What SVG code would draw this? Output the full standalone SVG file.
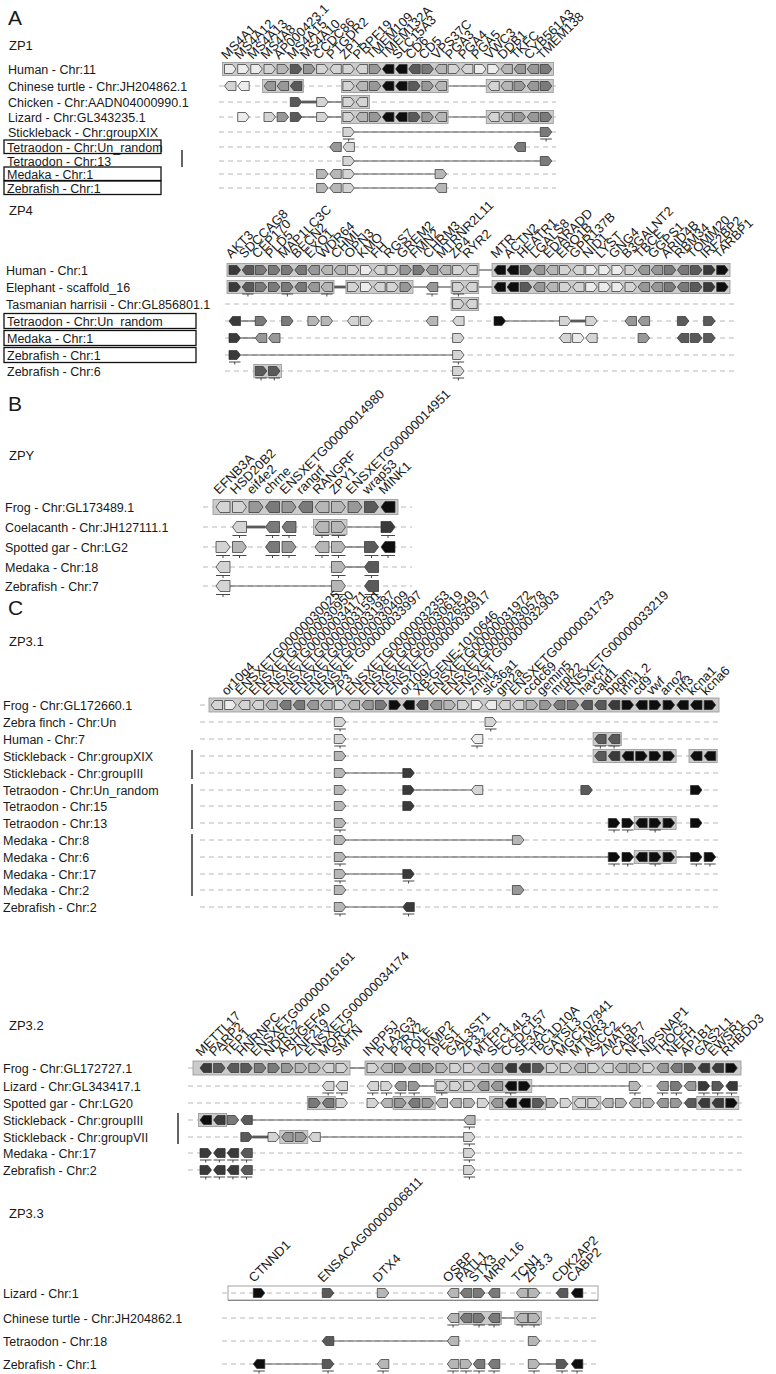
<svg xmlns="http://www.w3.org/2000/svg" width="776" height="1374" viewBox="0 0 776 1374">
<style>
text{font-family:"Liberation Sans",Arial,Helvetica,sans-serif;fill:#1a1a1a}
.sp{font-size:12.5px}
.gl text{font-size:13px}
.hd{font-size:13px}
.pn{font-size:21px}
use{stroke:#2e2e2e;stroke-width:0.7}
.a{fill:#ececec}.b{fill:#d4d4d4}.c{fill:#b6b6b6}.d{fill:#989898}.e{fill:#7a7a7a}.f{fill:#5a5a5a}.g{fill:#3a3a3a}.k{fill:#0e0e0e}
use.u{fill:none;stroke:#333;stroke-width:0.9}
.dash line{stroke:#b8b8b8;stroke-width:1;stroke-dasharray:5 4}
.ln{stroke:#5a5a5a;stroke-width:1.2}
.tk{stroke:#5a5a5a;stroke-width:2.8}
.bar{fill:#cbcbcb;stroke:#959595;stroke-width:0.8}
.box{fill:none;stroke:#111;stroke-width:1.3}
.vb{stroke:#111;stroke-width:1.3}
</style>
<defs>
<path id="R" d="M0,-4.5h8l3.5,4.5l-3.5,4.5h-8z"/>
<path id="L" d="M11.5,-4.5h-8l-3.5,4.5l3.5,4.5h8z"/>
<path id="RB" d="M0,-5.5h10l4,5.5l-4,5.5h-10z"/>
<path id="LB" d="M14,-5.5h-10l-4,5.5l4,5.5h10z"/>
<path id="U" d="M0,7h11.5M5.75,7v2.5"/>
<path id="UB" d="M0,8.5h14M7,8.5v2.5"/>
</defs>

<g id="headings">
<text class="pn" x="8" y="25">A</text>
<text class="hd" x="9" y="50">ZP1</text>
<text class="hd" x="9" y="215">ZP4</text>
<text class="pn" x="8" y="411">B</text>
<text class="hd" x="9" y="460">ZPY</text>
<text class="pn" x="8" y="615">C</text>
<text class="hd" x="9" y="646">ZP3.1</text>
<text class="hd" x="9" y="1030">ZP3.2</text>
<text class="hd" x="9" y="1218">ZP3.3</text>
</g>

<g id="baselines" class="dash">
<line x1="219" y1="86" x2="556" y2="86"/><line x1="219" y1="102" x2="556" y2="102"/><line x1="219" y1="117" x2="556" y2="117"/><line x1="219" y1="132" x2="556" y2="132"/><line x1="219" y1="147" x2="556" y2="147"/><line x1="219" y1="161" x2="556" y2="161"/><line x1="219" y1="174" x2="556" y2="174"/><line x1="219" y1="188" x2="556" y2="188"/>
<line x1="225" y1="304" x2="735" y2="304"/><line x1="225" y1="321" x2="735" y2="321"/><line x1="225" y1="338" x2="735" y2="338"/><line x1="225" y1="355" x2="735" y2="355"/><line x1="225" y1="371" x2="735" y2="371"/>
<line x1="203" y1="507" x2="412" y2="507"/><line x1="203" y1="527" x2="412" y2="527"/><line x1="203" y1="547" x2="412" y2="547"/><line x1="203" y1="567" x2="412" y2="567"/><line x1="203" y1="586" x2="412" y2="586"/>
<line x1="200" y1="705" x2="720" y2="705"/><line x1="200" y1="722" x2="720" y2="722"/><line x1="200" y1="739" x2="720" y2="739"/><line x1="200" y1="756" x2="720" y2="756"/><line x1="200" y1="773" x2="720" y2="773"/><line x1="200" y1="790" x2="720" y2="790"/><line x1="200" y1="806" x2="720" y2="806"/><line x1="200" y1="823" x2="720" y2="823"/><line x1="200" y1="840" x2="720" y2="840"/><line x1="200" y1="857" x2="720" y2="857"/><line x1="200" y1="874" x2="720" y2="874"/><line x1="200" y1="890" x2="720" y2="890"/><line x1="200" y1="907" x2="720" y2="907"/>
<line x1="188" y1="1068" x2="745" y2="1068"/><line x1="188" y1="1086" x2="745" y2="1086"/><line x1="188" y1="1103" x2="745" y2="1103"/><line x1="188" y1="1120" x2="745" y2="1120"/><line x1="188" y1="1137" x2="745" y2="1137"/><line x1="188" y1="1153" x2="745" y2="1153"/><line x1="188" y1="1170" x2="745" y2="1170"/>
<line x1="222" y1="1293" x2="600" y2="1293"/><line x1="222" y1="1318" x2="600" y2="1318"/><line x1="222" y1="1341" x2="600" y2="1341"/><line x1="222" y1="1364" x2="600" y2="1364"/>
</g>

<g id="connectors">
<line class="ln" x1="446.6" y1="86" x2="487.7" y2="86"/>
<line class="tk" x1="301.8" y1="102" x2="316.6" y2="102"/><line class="ln" x1="328.1" y1="102" x2="342.9" y2="102"/>
<line class="ln" x1="301.8" y1="117" x2="316.6" y2="117"/><line class="ln" x1="328.1" y1="117" x2="342.9" y2="117"/><line class="ln" x1="446.6" y1="117" x2="487.7" y2="117"/>
<line class="ln" x1="354.4" y1="132" x2="540.3" y2="132"/>
<line class="ln" x1="354.4" y1="161" x2="540.3" y2="161"/>
<line class="ln" x1="354.4" y1="174" x2="435.1" y2="174"/>
<line class="ln" x1="354.4" y1="188" x2="435.1" y2="188"/>
<line class="ln" x1="479" y1="270" x2="492" y2="270"/>
<line class="tk" x1="334" y1="287" x2="346" y2="287"/><line class="ln" x1="411.5" y1="287" x2="426.3" y2="287"/><line class="ln" x1="437.8" y1="287" x2="452.6" y2="287"/><line class="ln" x1="478.7" y1="287" x2="492" y2="287"/>
<line class="ln" x1="240.5" y1="321" x2="255.3" y2="321"/><line class="ln" x1="505.5" y1="321" x2="559.5" y2="321"/><line class="tk" x1="571" y1="321" x2="585.7" y2="321"/>
<line class="ln" x1="240.5" y1="338" x2="255.3" y2="338"/>
<line class="ln" x1="240.5" y1="355" x2="452.6" y2="355"/>
<line class="tk" x1="246.5" y1="527" x2="265.5" y2="527"/><line class="ln" x1="345.5" y1="527" x2="381" y2="527"/>
<line class="ln" x1="345.5" y1="547" x2="364.5" y2="547"/>
<line class="ln" x1="345.5" y1="567" x2="364.5" y2="567"/>
<line class="ln" x1="230" y1="586" x2="331.5" y2="586"/>
<line class="ln" x1="345.8" y1="773" x2="402.8" y2="773"/>
<line class="ln" x1="414.3" y1="790" x2="471.3" y2="790"/>
<line class="ln" x1="345.8" y1="840" x2="512.4" y2="840"/>
<line class="ln" x1="345.8" y1="857" x2="608.3" y2="857"/><line class="ln" x1="676" y1="857" x2="690.5" y2="857"/>
<line class="ln" x1="345.8" y1="874" x2="402.8" y2="874"/>
<line class="ln" x1="345.8" y1="907" x2="402.8" y2="907"/>
<line class="ln" x1="349.5" y1="1068" x2="365.5" y2="1068"/>
<line class="ln" x1="419.9" y1="1086" x2="436" y2="1086"/><line class="ln" x1="530.3" y1="1086" x2="629.2" y2="1086"/>
<line class="ln" x1="252.3" y1="1120" x2="463.6" y2="1120"/>
<line class="tk" x1="252.3" y1="1137" x2="268" y2="1137"/><line class="ln" x1="320.3" y1="1137" x2="463.6" y2="1137"/>
<line class="ln" x1="499.8" y1="1318" x2="516.3" y2="1318"/>
<line class="ln" x1="333.8" y1="1341" x2="447.3" y2="1341"/>
<line class="ln" x1="264.8" y1="1364" x2="322.3" y2="1364"/><line class="ln" x1="539.8" y1="1364" x2="556.3" y2="1364"/>
</g>

<!-- ZP1 -->
<g id="zp1-labels" class="gl">
<text transform="translate(226.5 60) rotate(-45)">MS4A1</text><text transform="translate(239.7 60) rotate(-45)">MS4A12</text><text transform="translate(252.8 60) rotate(-45)">MS4A13</text><text transform="translate(266 60) rotate(-45)">MS4A8</text><text transform="translate(279.1 60) rotate(-45)">AP000423.1</text><text transform="translate(292.3 60) rotate(-45)">MS4A15</text><text transform="translate(305.5 60) rotate(-45)">MS4A10</text><text transform="translate(318.6 60) rotate(-45)">CCDC86</text><text transform="translate(331.8 60) rotate(-45)">PTGDR2</text><text transform="translate(344.9 60) rotate(-45)">ZP1</text><text transform="translate(358.1 60) rotate(-45)">PRPF19</text><text transform="translate(371.3 60) rotate(-45)">TMEM109</text><text transform="translate(384.4 60) rotate(-45)">TMEM132A</text><text transform="translate(397.6 60) rotate(-45)">SLC15A3</text><text transform="translate(410.7 60) rotate(-45)">CD6</text><text transform="translate(423.9 60) rotate(-45)">CD5</text><text transform="translate(437.1 60) rotate(-45)">VPS37C</text><text transform="translate(450.2 60) rotate(-45)">PGA3</text><text transform="translate(463.4 60) rotate(-45)">PGA4</text><text transform="translate(476.5 60) rotate(-45)">PGA5</text><text transform="translate(489.7 60) rotate(-45)">VWC3</text><text transform="translate(502.9 60) rotate(-45)">DDB1</text><text transform="translate(516 60) rotate(-45)">TKFC</text><text transform="translate(529.2 60) rotate(-45)">CYB561A3</text><text transform="translate(542.3 60) rotate(-45)">TMEM138</text>
</g>
<g id="zp1-human" transform="translate(0,69)">
<text class="sp" x="8" y="4.5">Human - Chr:11</text>
<rect class="bar" x="222.5" y="-6.5" width="331" height="13"/>
<use href="#R" x="224.5" class="a"/><use href="#R" x="237.7" class="a"/><use href="#R" x="250.8" class="a"/><use href="#R" x="264" class="b"/><use href="#R" x="277.1" class="c"/><use href="#R" x="290.3" class="f"/><use href="#R" x="303.5" class="d"/><use href="#R" x="316.6" class="b"/><use href="#L" x="329.8" class="b"/><use href="#R" x="342.9" class="b"/><use href="#L" x="356.1" class="b"/><use href="#R" x="369.3" class="d"/><use href="#L" x="382.4" class="k"/><use href="#L" x="395.6" class="k"/><use href="#L" x="408.7" class="f"/><use href="#R" x="421.9" class="e"/><use href="#L" x="435.1" class="c"/><use href="#R" x="448.2" class="b"/><use href="#L" x="461.4" class="b"/><use href="#R" x="474.5" class="a"/><use href="#R" x="487.7" class="a"/><use href="#L" x="500.9" class="c"/><use href="#L" x="514" class="d"/><use href="#L" x="527.2" class="d"/><use href="#R" x="540.3" class="e"/>
</g>
<g id="zp1-turtle" transform="translate(0,86)">
<text class="sp" x="8" y="4.5">Chinese turtle - Chr:JH204862.1</text>
<rect class="bar" x="262.5" y="-6.5" width="40.8" height="13"/><rect class="bar" x="341.4" y="-6.5" width="106.7" height="13"/><rect class="bar" x="486.2" y="-6.5" width="67.1" height="13"/>
<use href="#L" x="224.5" class="b"/><use href="#L" x="237.7" class="a"/><use href="#L" x="264" class="d"/><use href="#L" x="277.1" class="d"/><use href="#L" x="290.3" class="f"/><use href="#R" x="342.9" class="b"/><use href="#L" x="356.1" class="c"/><use href="#R" x="369.3" class="d"/><use href="#L" x="382.4" class="k"/><use href="#L" x="395.6" class="k"/><use href="#R" x="408.7" class="f"/><use href="#R" x="421.9" class="d"/><use href="#L" x="435.1" class="c"/><use href="#L" x="487.7" class="b"/><use href="#L" x="500.9" class="c"/><use href="#R" x="514" class="d"/><use href="#L" x="527.2" class="d"/><use href="#R" x="540.3" class="e"/>
</g>
<g id="zp1-chicken" transform="translate(0,102)">
<text class="sp" x="8" y="4.5">Chicken - Chr:AADN04000990.1</text>
<rect class="bar" x="341.4" y="-6.5" width="28.2" height="13"/>
<use href="#R" x="290.3" class="f"/><use href="#R" x="316.6" class="b"/><use href="#R" x="342.9" class="b"/><use href="#L" x="356.1" class="b"/>
</g>
<g id="zp1-lizard" transform="translate(0,117)">
<text class="sp" x="8" y="4.5">Lizard - Chr:GL343235.1</text>
<rect class="bar" x="341.4" y="-6.5" width="106.7" height="13"/><rect class="bar" x="486.2" y="-6.5" width="67.1" height="13"/>
<use href="#R" x="237.7" class="a"/><use href="#R" x="264" class="b"/><use href="#R" x="277.1" class="d"/><use href="#R" x="290.3" class="f"/><use href="#R" x="316.6" class="b"/><use href="#R" x="342.9" class="b"/><use href="#L" x="356.1" class="c"/><use href="#R" x="369.3" class="d"/><use href="#L" x="382.4" class="k"/><use href="#L" x="395.6" class="k"/><use href="#R" x="408.7" class="f"/><use href="#R" x="421.9" class="d"/><use href="#L" x="435.1" class="c"/><use href="#L" x="487.7" class="b"/><use href="#L" x="500.9" class="c"/><use href="#R" x="514" class="d"/><use href="#L" x="527.2" class="d"/><use href="#R" x="540.3" class="e"/>
</g>
<g id="zp1-stickleback" transform="translate(0,132)">
<text class="sp" x="8" y="4.5">Stickleback - Chr:groupXIX</text>
<use href="#R" x="342.9" class="b"/><use href="#R" x="540.3" class="e"/><use href="#U" x="342.9" class="u"/><use href="#U" x="540.3" class="u"/>
</g>
<g id="zp1-tetraodon-un" transform="translate(0,147)">
<rect class="box" x="4" y="-7" width="157" height="13.5"/>
<text class="sp" x="7" y="4.5">Tetraodon - Chr:Un_random</text>
<use href="#L" x="329.8" class="d"/><use href="#L" x="342.9" class="b"/><use href="#L" x="514" class="e"/>
</g>
<g id="zp1-tetraodon-13" transform="translate(0,161)">
<text class="sp" x="7" y="4.5">Tetraodon - Chr:13</text>
<use href="#R" x="342.9" class="b"/><use href="#R" x="540.3" class="e"/>
</g>
<g id="zp1-medaka" transform="translate(0,174)">
<rect class="box" x="4" y="-7" width="157" height="13.5"/>
<text class="sp" x="7" y="4.5">Medaka - Chr:1</text>
<use href="#R" x="316.6" class="c"/><use href="#L" x="329.8" class="c"/><use href="#R" x="342.9" class="b"/><use href="#R" x="435.1" class="c"/>
</g>
<g id="zp1-zebrafish" transform="translate(0,188)">
<rect class="box" x="4" y="-7" width="157" height="13.5"/>
<text class="sp" x="7" y="4.5">Zebrafish - Chr:1</text>
<use href="#R" x="316.6" class="c"/><use href="#L" x="329.8" class="c"/><use href="#R" x="342.9" class="b"/><use href="#L" x="435.1" class="c"/>
</g>
<line class="vb" x1="182" y1="150" x2="182" y2="167"/>

<!-- ZP4 -->
<g id="zp4-labels" class="gl">
<text transform="translate(231 259) rotate(-45)">AKT3</text><text transform="translate(244.2 259) rotate(-45)">SDCCAG8</text><text transform="translate(257.3 259) rotate(-45)">CEP170</text><text transform="translate(270.5 259) rotate(-45)">PLD5</text><text transform="translate(283.6 259) rotate(-45)">MAP1LC3C</text><text transform="translate(296.8 259) rotate(-45)">BECN2</text><text transform="translate(309.9 259) rotate(-45)">EXO1</text><text transform="translate(323.1 259) rotate(-45)">WDR64</text><text transform="translate(336.2 259) rotate(-45)">CHML</text><text transform="translate(349.4 259) rotate(-45)">OPN3</text><text transform="translate(362.5 259) rotate(-45)">KMO</text><text transform="translate(375.7 259) rotate(-45)">FH</text><text transform="translate(388.8 259) rotate(-45)">RGS7</text><text transform="translate(402 259) rotate(-45)">GREM2</text><text transform="translate(415.1 259) rotate(-45)">FMN2</text><text transform="translate(428.3 259) rotate(-45)">CHRM3</text><text transform="translate(441.4 259) rotate(-45)">MTRNR2L11</text><text transform="translate(454.6 259) rotate(-45)">ZP4</text><text transform="translate(467.7 259) rotate(-45)">RYR2</text>
<text transform="translate(496 259) rotate(-45)">MTR</text><text transform="translate(509.1 259) rotate(-45)">ACTN2</text><text transform="translate(522.2 259) rotate(-45)">HEATR1</text><text transform="translate(535.3 259) rotate(-45)">LGALS8</text><text transform="translate(548.4 259) rotate(-45)">EDARADD</text><text transform="translate(561.5 259) rotate(-45)">ERO1B</text><text transform="translate(574.6 259) rotate(-45)">GPR137B</text><text transform="translate(587.7 259) rotate(-45)">NID1</text><text transform="translate(600.8 259) rotate(-45)">LYST</text><text transform="translate(613.9 259) rotate(-45)">GNG4</text><text transform="translate(627 259) rotate(-45)">B3GALNT2</text><text transform="translate(640.1 259) rotate(-45)">TBCE</text><text transform="translate(653.2 259) rotate(-45)">GGPS1</text><text transform="translate(666.3 259) rotate(-45)">ARID4B</text><text transform="translate(679.4 259) rotate(-45)">RBM34</text><text transform="translate(692.5 259) rotate(-45)">TOMM20</text><text transform="translate(705.6 259) rotate(-45)">IRF2BP2</text><text transform="translate(718.7 259) rotate(-45)">TARBP1</text>
</g>
<g id="zp4-human" transform="translate(0,270)">
<text class="sp" x="6" y="4.5">Human - Chr:1</text>
<rect class="bar" x="227" y="-6.5" width="252" height="13"/><rect class="bar" x="492" y="-6.5" width="238" height="13"/>
<use href="#R" x="229" class="g"/><use href="#L" x="242.2" class="f"/><use href="#R" x="255.3" class="e"/><use href="#R" x="268.5" class="e"/><use href="#R" x="281.6" class="e"/><use href="#L" x="294.8" class="e"/><use href="#L" x="307.9" class="d"/><use href="#L" x="321.1" class="c"/><use href="#L" x="334.2" class="c"/><use href="#R" x="347.4" class="b"/><use href="#R" x="360.5" class="a"/><use href="#L" x="373.7" class="b"/><use href="#R" x="386.8" class="b"/><use href="#R" x="400" class="d"/><use href="#R" x="413.1" class="e"/><use href="#L" x="426.3" class="d"/><use href="#L" x="439.4" class="c"/><use href="#R" x="452.6" class="b"/><use href="#L" x="465.7" class="b"/>
<use href="#L" x="494" class="k"/><use href="#L" x="507.1" class="k"/><use href="#R" x="520.2" class="f"/><use href="#L" x="533.3" class="d"/><use href="#L" x="546.4" class="c"/><use href="#R" x="559.5" class="b"/><use href="#L" x="572.6" class="b"/><use href="#R" x="585.7" class="a"/><use href="#R" x="598.8" class="a"/><use href="#R" x="611.9" class="a"/><use href="#R" x="625" class="b"/><use href="#L" x="638.1" class="d"/><use href="#L" x="651.2" class="d"/><use href="#R" x="664.3" class="e"/><use href="#L" x="677.4" class="e"/><use href="#R" x="690.5" class="f"/><use href="#R" x="703.6" class="g"/><use href="#R" x="716.7" class="k"/>
</g>
<g id="zp4-elephant" transform="translate(0,287)">
<text class="sp" x="6" y="4.5">Elephant - scaffold_16</text>
<rect class="bar" x="227" y="-6.5" width="107" height="13"/><rect class="bar" x="345.9" y="-6.5" width="67.1" height="13"/><rect class="bar" x="451.1" y="-6.5" width="27.6" height="13"/><rect class="bar" x="492" y="-6.5" width="238" height="13"/>
<use href="#R" x="229" class="g"/><use href="#L" x="242.2" class="f"/><use href="#R" x="255.3" class="e"/><use href="#R" x="268.5" class="e"/><use href="#R" x="281.6" class="e"/><use href="#L" x="294.8" class="e"/><use href="#L" x="307.9" class="d"/><use href="#L" x="321.1" class="c"/><use href="#R" x="347.4" class="b"/><use href="#R" x="360.5" class="a"/><use href="#L" x="373.7" class="b"/><use href="#R" x="386.8" class="b"/><use href="#R" x="400" class="d"/><use href="#L" x="426.3" class="d"/><use href="#R" x="452.6" class="b"/><use href="#L" x="465.7" class="b"/>
<use href="#L" x="494" class="k"/><use href="#L" x="507.1" class="k"/><use href="#R" x="520.2" class="f"/><use href="#L" x="533.3" class="d"/><use href="#L" x="546.4" class="c"/><use href="#R" x="559.5" class="b"/><use href="#L" x="572.6" class="b"/><use href="#R" x="585.7" class="a"/><use href="#R" x="598.8" class="a"/><use href="#R" x="611.9" class="a"/><use href="#R" x="625" class="b"/><use href="#L" x="638.1" class="d"/><use href="#L" x="651.2" class="d"/><use href="#R" x="664.3" class="e"/><use href="#L" x="677.4" class="e"/><use href="#R" x="690.5" class="f"/><use href="#R" x="703.6" class="g"/><use href="#R" x="716.7" class="k"/>
<use href="#U" x="242.2" class="u"/><use href="#U" x="281.6" class="u"/><use href="#U" x="321.1" class="u"/><use href="#U" x="426.3" class="u"/><use href="#U" x="452.6" class="u"/>
</g>
<g id="zp4-tasmanian" transform="translate(0,304)">
<text class="sp" x="6" y="4.5">Tasmanian harrisii - Chr:GL856801.1</text>
<rect class="bar" x="451.1" y="-6.5" width="27.6" height="13"/>
<use href="#R" x="452.6" class="b"/><use href="#L" x="465.7" class="b"/>
</g>
<g id="zp4-tetraodon" transform="translate(0,321)">
<rect class="box" x="4" y="-7.5" width="192" height="15"/>
<text class="sp" x="7" y="4.5">Tetraodon - Chr:Un_random</text>
<use href="#L" x="229" class="g"/><use href="#R" x="255.3" class="e"/><use href="#R" x="281.6" class="e"/><use href="#R" x="307.9" class="c"/><use href="#R" x="321.1" class="c"/><use href="#L" x="347.4" class="b"/><use href="#R" x="360.5" class="b"/><use href="#L" x="426.3" class="c"/><use href="#L" x="452.6" class="b"/>
<use href="#R" x="494" class="k"/><use href="#R" x="559.5" class="b"/><use href="#R" x="585.7" class="b"/><use href="#L" x="625" class="d"/><use href="#L" x="638.1" class="d"/><use href="#R" x="677.4" class="f"/><use href="#R" x="703.6" class="f"/>
</g>
<g id="zp4-medaka" transform="translate(0,338)">
<rect class="box" x="4" y="-7.5" width="192" height="15"/>
<text class="sp" x="7" y="4.5">Medaka - Chr:1</text>
<use href="#R" x="229" class="g"/><use href="#L" x="255.3" class="d"/><use href="#L" x="268.5" class="d"/><use href="#R" x="452.6" class="b"/>
<use href="#L" x="559.5" class="b"/><use href="#R" x="572.6" class="a"/><use href="#L" x="585.7" class="b"/><use href="#R" x="638.1" class="d"/><use href="#L" x="677.4" class="f"/><use href="#R" x="690.5" class="f"/><use href="#R" x="703.6" class="f"/>
</g>
<g id="zp4-zebrafish1" transform="translate(0,355)">
<rect class="box" x="4" y="-7.5" width="192" height="15"/>
<text class="sp" x="7" y="4.5">Zebrafish - Chr:1</text>
<use href="#R" x="229" class="g"/><use href="#R" x="452.6" class="b"/><use href="#U" x="229" class="u"/><use href="#U" x="452.6" class="u"/>
</g>
<g id="zp4-zebrafish6" transform="translate(0,371)">
<text class="sp" x="7" y="4.5">Zebrafish - Chr:6</text>
<rect class="bar" x="253.8" y="-6.5" width="27.7" height="13"/>
<use href="#R" x="255.3" class="f"/><use href="#R" x="268.5" class="f"/><use href="#R" x="452.6" class="b"/><use href="#U" x="255.3" class="u"/><use href="#U" x="268.5" class="u"/><use href="#U" x="452.6" class="u"/>
</g>

<!-- ZPY -->
<g id="zpy-labels" class="gl">
<text transform="translate(219 495) rotate(-45)">EFNB3A</text><text transform="translate(235.5 495) rotate(-45)">HSD20B2</text><text transform="translate(252 495) rotate(-45)">eif4e2</text><text transform="translate(268.5 495) rotate(-45)">chrne</text><text transform="translate(285 495) rotate(-45)">ENSXETG00000014980</text><text transform="translate(301.5 495) rotate(-45)">rangrf</text><text transform="translate(318 495) rotate(-45)">RANGRF</text><text transform="translate(334.5 495) rotate(-45)">ZPY1</text><text transform="translate(351 495) rotate(-45)">ENSXETG00000014951</text><text transform="translate(367.5 495) rotate(-45)">wrap53</text><text transform="translate(384 495) rotate(-45)">MINK1</text>
</g>
<g id="zpy-frog" transform="translate(0,507)">
<text class="sp" x="5" y="4.5">Frog - Chr:GL173489.1</text>
<rect class="bar" x="213" y="-7.5" width="185" height="15"/>
<use href="#LB" x="216" class="b"/><use href="#RB" x="232.5" class="b"/><use href="#RB" x="249" class="d"/><use href="#LB" x="265.5" class="e"/><use href="#RB" x="282" class="d"/><use href="#LB" x="298.5" class="e"/><use href="#LB" x="315" class="c"/><use href="#RB" x="331.5" class="c"/><use href="#RB" x="348" class="d"/><use href="#RB" x="364.5" class="f"/><use href="#LB" x="381" class="k"/>
</g>
<g id="zpy-coelacanth" transform="translate(0,527)">
<text class="sp" x="5" y="4.5">Coelacanth - Chr:JH127111.1</text>
<rect class="bar" x="313.5" y="-7.5" width="33.5" height="15"/>
<use href="#LB" x="232.5" class="b"/><use href="#LB" x="265.5" class="e"/><use href="#LB" x="282" class="e"/><use href="#LB" x="315" class="c"/><use href="#RB" x="331.5" class="c"/><use href="#RB" x="381" class="g"/>
<use href="#UB" x="232.5" class="u"/><use href="#UB" x="265.5" class="u"/><use href="#UB" x="282" class="u"/><use href="#UB" x="315" class="u"/><use href="#UB" x="331.5" class="u"/><use href="#UB" x="381" class="u"/>
</g>
<g id="zpy-gar" transform="translate(0,547)">
<text class="sp" x="5" y="4.5">Spotted gar - Chr:LG2</text>
<use href="#RB" x="216" class="b"/><use href="#RB" x="232.5" class="c"/><use href="#LB" x="265.5" class="e"/><use href="#RB" x="282" class="d"/><use href="#LB" x="315" class="c"/><use href="#RB" x="331.5" class="c"/><use href="#RB" x="364.5" class="f"/><use href="#LB" x="381" class="k"/>
<use href="#UB" x="216" class="u"/><use href="#UB" x="232.5" class="u"/><use href="#UB" x="265.5" class="u"/><use href="#UB" x="282" class="u"/><use href="#UB" x="315" class="u"/><use href="#UB" x="331.5" class="u"/><use href="#UB" x="364.5" class="u"/><use href="#UB" x="381" class="u"/>
</g>
<g id="zpy-medaka" transform="translate(0,567)">
<text class="sp" x="5" y="4.5">Medaka - Chr:18</text>
<use href="#LB" x="216" class="b"/><use href="#RB" x="331.5" class="c"/><use href="#LB" x="364.5" class="f"/>
<use href="#UB" x="216" class="u"/><use href="#UB" x="331.5" class="u"/><use href="#UB" x="364.5" class="u"/>
</g>
<g id="zpy-zebrafish" transform="translate(0,586)">
<text class="sp" x="5" y="4.5">Zebrafish - Chr:7</text>
<use href="#LB" x="216" class="b"/><use href="#RB" x="331.5" class="c"/><use href="#LB" x="364.5" class="f"/>
<use href="#UB" x="216" class="u"/><use href="#UB" x="331.5" class="u"/><use href="#UB" x="364.5" class="u"/>
</g>

<!-- ZP3.1 -->
<g id="zp31-labels" class="gl">
<text transform="translate(226.7 696) rotate(-45)">or10g4</text><text transform="translate(240.4 696) rotate(-45)">ENSXETG00000030025</text><text transform="translate(254.1 696) rotate(-45)">ENSXETG00000030950</text><text transform="translate(267.8 696) rotate(-45)">ENSXETG00000034171</text><text transform="translate(281.5 696) rotate(-45)">ENSXETG00000031591</text><text transform="translate(295.2 696) rotate(-45)">ENSXETG00000031987</text><text transform="translate(308.9 696) rotate(-45)">ENSXETG00000030409</text><text transform="translate(322.6 696) rotate(-45)">ENSXETG00000033997</text><text transform="translate(336.3 696) rotate(-45)">ZP3</text><text transform="translate(350 696) rotate(-45)">ENSXETG00000032353</text><text transform="translate(363.7 696) rotate(-45)">ENSXETG00000030619</text><text transform="translate(377.4 696) rotate(-45)">ENSXETG00000026549</text><text transform="translate(391.1 696) rotate(-45)">ENSXETG00000030917</text><text transform="translate(404.8 696) rotate(-45)">or10g7</text><text transform="translate(418.5 696) rotate(-45)">XB-GENE-1010646</text><text transform="translate(432.2 696) rotate(-45)">ENSXETG00000031972</text><text transform="translate(445.9 696) rotate(-45)">ENSXETG00000030578</text><text transform="translate(459.6 696) rotate(-45)">ENSXETG00000032903</text><text transform="translate(473.3 696) rotate(-45)">znhit1</text><text transform="translate(487 696) rotate(-45)">slc36a1</text><text transform="translate(500.7 696) rotate(-45)">gm2a</text><text transform="translate(514.4 696) rotate(-45)">ENSXETG00000031733</text><text transform="translate(528.1 696) rotate(-45)">ccdc69</text><text transform="translate(541.8 696) rotate(-45)">gemin5</text><text transform="translate(555.5 696) rotate(-45)">mrpl22</text><text transform="translate(569.2 696) rotate(-45)">ENSXETG00000033219</text><text transform="translate(582.9 696) rotate(-45)">havcr1</text><text transform="translate(596.6 696) rotate(-45)">cald1</text><text transform="translate(610.3 696) rotate(-45)">bpgm</text><text transform="translate(624 696) rotate(-45)">tnni1.2</text><text transform="translate(637.7 696) rotate(-45)">cd9</text><text transform="translate(651.4 696) rotate(-45)">vwf</text><text transform="translate(665.1 696) rotate(-45)">ano2</text><text transform="translate(678.8 696) rotate(-45)">ntf3</text><text transform="translate(692.5 696) rotate(-45)">kcna1</text><text transform="translate(706.2 696) rotate(-45)">kcna6</text>
</g>
<g id="zp31-frog" transform="translate(0,705)">
<text class="sp" x="3" y="4.5">Frog - Chr:GL172660.1</text>
<rect class="bar" x="209" y="-7" width="510" height="14"/>
<use href="#L" x="211" class="b"/><use href="#R" x="224.7" class="a"/><use href="#L" x="238.4" class="b"/><use href="#L" x="252.1" class="b"/><use href="#L" x="265.8" class="c"/><use href="#L" x="279.5" class="e"/><use href="#L" x="293.2" class="e"/><use href="#L" x="306.9" class="d"/><use href="#L" x="320.6" class="c"/><use href="#R" x="334.3" class="b"/><use href="#L" x="348" class="c"/><use href="#L" x="361.7" class="d"/><use href="#R" x="375.4" class="e"/><use href="#R" x="389.1" class="k"/><use href="#L" x="402.8" class="k"/><use href="#L" x="416.5" class="f"/><use href="#L" x="430.2" class="d"/><use href="#R" x="443.9" class="c"/><use href="#R" x="457.6" class="b"/><use href="#R" x="471.3" class="a"/><use href="#L" x="485" class="a"/><use href="#L" x="498.7" class="b"/><use href="#L" x="512.4" class="b"/><use href="#R" x="526.1" class="c"/><use href="#R" x="539.8" class="d"/><use href="#L" x="553.5" class="e"/><use href="#R" x="567.2" class="e"/><use href="#L" x="580.9" class="f"/><use href="#L" x="594.6" class="f"/><use href="#L" x="608.3" class="g"/><use href="#R" x="622" class="k"/><use href="#L" x="635.7" class="k"/><use href="#R" x="649.4" class="k"/><use href="#R" x="663.1" class="k"/><use href="#L" x="676.8" class="k"/><use href="#L" x="690.5" class="k"/><use href="#R" x="704.2" class="k"/>
</g>
<g id="zp31-zebrafinch" transform="translate(0,722)">
<text class="sp" x="3" y="4.5">Zebra finch - Chr:Un</text>
<use href="#R" x="334.3" class="b"/><use href="#R" x="485" class="b"/><use href="#U" x="334.3" class="u"/><use href="#U" x="485" class="u"/>
</g>
<g id="zp31-human" transform="translate(0,739)">
<text class="sp" x="3" y="4.5">Human - Chr:7</text>
<rect class="bar" x="593.1" y="-6.5" width="28.2" height="13"/>
<use href="#R" x="334.3" class="b"/><use href="#L" x="471.3" class="a"/><use href="#L" x="594.6" class="f"/><use href="#L" x="608.3" class="f"/>
<use href="#U" x="334.3" class="u"/><use href="#U" x="471.3" class="u"/><use href="#U" x="594.6" class="u"/><use href="#U" x="608.3" class="u"/>
</g>
<g id="zp31-stickleback-xix" transform="translate(0,756)">
<text class="sp" x="3" y="4.5">Stickleback - Chr:groupXIX</text>
<rect class="bar" x="593.1" y="-6.5" width="83" height="13"/><rect class="bar" x="689" y="-6.5" width="28.2" height="13"/>
<use href="#R" x="334.3" class="c"/><use href="#L" x="594.6" class="f"/><use href="#L" x="608.3" class="g"/><use href="#L" x="622" class="k"/><use href="#R" x="635.7" class="k"/><use href="#R" x="649.4" class="k"/><use href="#R" x="663.1" class="k"/><use href="#L" x="690.5" class="k"/><use href="#L" x="704.2" class="k"/>
</g>
<g id="zp31-stickleback-iii" transform="translate(0,773)">
<text class="sp" x="3" y="4.5">Stickleback - Chr:groupIII</text>
<use href="#R" x="334.3" class="c"/><use href="#R" x="402.8" class="g"/>
</g>
<g id="zp31-tetraodon-un" transform="translate(0,790)">
<text class="sp" x="3" y="4.5">Tetraodon - Chr:Un_random</text>
<use href="#R" x="334.3" class="c"/><use href="#R" x="402.8" class="g"/><use href="#L" x="471.3" class="b"/><use href="#R" x="580.9" class="f"/><use href="#R" x="690.5" class="k"/>
</g>
<g id="zp31-tetraodon-15" transform="translate(0,806)">
<text class="sp" x="3" y="4.5">Tetraodon - Chr:15</text>
<use href="#R" x="334.3" class="c"/><use href="#R" x="402.8" class="g"/>
</g>
<g id="zp31-tetraodon-13" transform="translate(0,823)">
<text class="sp" x="3" y="4.5">Tetraodon - Chr:13</text>
<rect class="bar" x="634.2" y="-6.5" width="41.9" height="13"/>
<use href="#R" x="334.3" class="c"/><use href="#R" x="608.3" class="k"/><use href="#R" x="622" class="k"/><use href="#L" x="635.7" class="k"/><use href="#R" x="649.4" class="k"/><use href="#R" x="663.1" class="k"/><use href="#R" x="690.5" class="k"/>
<use href="#U" x="334.3" class="u"/><use href="#U" x="608.3" class="u"/><use href="#U" x="622" class="u"/><use href="#U" x="649.4" class="u"/>
</g>
<g id="zp31-medaka-8" transform="translate(0,840)">
<text class="sp" x="3" y="4.5">Medaka - Chr:8</text>
<use href="#R" x="334.3" class="c"/><use href="#R" x="512.4" class="c"/>
</g>
<g id="zp31-medaka-6" transform="translate(0,857)">
<text class="sp" x="3" y="4.5">Medaka - Chr:6</text>
<rect class="bar" x="634.2" y="-6.5" width="41.9" height="13"/>
<use href="#R" x="334.3" class="c"/><use href="#R" x="608.3" class="k"/><use href="#R" x="622" class="k"/><use href="#L" x="635.7" class="k"/><use href="#R" x="649.4" class="k"/><use href="#R" x="663.1" class="k"/><use href="#R" x="690.5" class="k"/><use href="#R" x="704.2" class="k"/>
<use href="#U" x="334.3" class="u"/><use href="#U" x="608.3" class="u"/><use href="#U" x="622" class="u"/><use href="#U" x="649.4" class="u"/><use href="#U" x="690.5" class="u"/><use href="#U" x="704.2" class="u"/>
</g>
<g id="zp31-medaka-17" transform="translate(0,874)">
<text class="sp" x="3" y="4.5">Medaka - Chr:17</text>
<use href="#R" x="334.3" class="c"/><use href="#R" x="402.8" class="g"/><use href="#U" x="334.3" class="u"/><use href="#U" x="402.8" class="u"/>
</g>
<g id="zp31-medaka-2" transform="translate(0,890)">
<text class="sp" x="3" y="4.5">Medaka - Chr:2</text>
<use href="#R" x="334.3" class="c"/><use href="#R" x="512.4" class="d"/>
</g>
<g id="zp31-zebrafish" transform="translate(0,907)">
<text class="sp" x="3" y="4.5">Zebrafish - Chr:2</text>
<use href="#R" x="334.3" class="c"/><use href="#L" x="402.8" class="g"/><use href="#U" x="334.3" class="u"/><use href="#U" x="402.8" class="u"/>
</g>
<line class="vb" x1="192" y1="750" x2="192" y2="779"/>
<line class="vb" x1="192" y1="784" x2="192" y2="829"/>
<line class="vb" x1="192" y1="834" x2="192" y2="896"/>

<!-- ZP3.2 -->
<g id="zp32-labels" class="gl">
<text transform="translate(201 1057) rotate(-45)">METTL17</text><text transform="translate(214.6 1057) rotate(-45)">PARP2</text><text transform="translate(228.2 1057) rotate(-45)">TEP1</text><text transform="translate(241.8 1057) rotate(-45)">HNRNPC</text><text transform="translate(255.4 1057) rotate(-45)">ENSXETG00000016161</text><text transform="translate(269 1057) rotate(-45)">NDRG2</text><text transform="translate(282.6 1057) rotate(-45)">ARHGEF40</text><text transform="translate(296.2 1057) rotate(-45)">ZNF219</text><text transform="translate(309.8 1057) rotate(-45)">ENSXETG00000034174</text><text transform="translate(323.4 1057) rotate(-45)">MORC2</text><text transform="translate(337 1057) rotate(-45)">SMTN</text>
<text transform="translate(368 1057) rotate(-45)">INPP5J</text><text transform="translate(381.8 1057) rotate(-45)">PLA2G3</text><text transform="translate(395.6 1057) rotate(-45)">P2RX2</text><text transform="translate(409.4 1057) rotate(-45)">POLE</text><text transform="translate(423.2 1057) rotate(-45)">PXMP2</text><text transform="translate(437 1057) rotate(-45)">PES1</text><text transform="translate(450.8 1057) rotate(-45)">GAL3ST1</text><text transform="translate(464.6 1057) rotate(-45)">ZP3.2</text><text transform="translate(478.4 1057) rotate(-45)">MTFP1</text><text transform="translate(492.2 1057) rotate(-45)">SEC14L3</text><text transform="translate(506 1057) rotate(-45)">CCDC157</text><text transform="translate(519.8 1057) rotate(-45)">SF3A1</text><text transform="translate(533.6 1057) rotate(-45)">TBC1D10A</text><text transform="translate(547.4 1057) rotate(-45)">GATSL3</text><text transform="translate(561.2 1057) rotate(-45)">MGC107841</text><text transform="translate(575 1057) rotate(-45)">MTMR3</text><text transform="translate(588.8 1057) rotate(-45)">ASCC2</text><text transform="translate(602.6 1057) rotate(-45)">ZMAT5</text><text transform="translate(616.4 1057) rotate(-45)">CABP7</text><text transform="translate(630.2 1057) rotate(-45)">NF2</text><text transform="translate(644 1057) rotate(-45)">NIPSNAP1</text><text transform="translate(657.8 1057) rotate(-45)">THOC5</text><text transform="translate(671.6 1057) rotate(-45)">NEFH</text><text transform="translate(685.4 1057) rotate(-45)">AP1B1</text><text transform="translate(699.2 1057) rotate(-45)">GAS2L1</text><text transform="translate(713 1057) rotate(-45)">EWSR1</text><text transform="translate(726.8 1057) rotate(-45)">RHBDD3</text>
</g>
<g id="zp32-frog" transform="translate(0,1068)">
<text class="sp" x="3" y="4.5">Frog - Chr:GL172727.1</text>
<rect class="bar" x="193" y="-7" width="157" height="14"/><rect class="bar" x="365" y="-7" width="376" height="14"/>
<use href="#L" x="200" class="g"/><use href="#R" x="213.6" class="f"/><use href="#L" x="227.2" class="f"/><use href="#R" x="240.8" class="f"/><use href="#R" x="254.4" class="e"/><use href="#R" x="268" class="e"/><use href="#R" x="281.6" class="d"/><use href="#R" x="295.2" class="c"/><use href="#R" x="308.8" class="c"/><use href="#L" x="322.4" class="b"/><use href="#R" x="336" class="b"/>
<use href="#R" x="367" class="b"/><use href="#L" x="380.8" class="c"/><use href="#R" x="394.6" class="d"/><use href="#L" x="408.4" class="d"/><use href="#R" x="422.2" class="d"/><use href="#R" x="436" class="c"/><use href="#R" x="449.8" class="b"/><use href="#R" x="463.6" class="b"/><use href="#L" x="477.4" class="c"/><use href="#L" x="491.2" class="d"/><use href="#L" x="505" class="g"/><use href="#L" x="518.8" class="g"/><use href="#R" x="532.6" class="f"/><use href="#R" x="546.4" class="b"/><use href="#R" x="560.2" class="b"/><use href="#L" x="574" class="c"/><use href="#R" x="587.8" class="b"/><use href="#L" x="601.6" class="b"/><use href="#L" x="615.4" class="c"/><use href="#R" x="629.2" class="c"/><use href="#R" x="643" class="b"/><use href="#L" x="656.8" class="d"/><use href="#L" x="670.6" class="e"/><use href="#R" x="684.4" class="f"/><use href="#L" x="698.2" class="g"/><use href="#L" x="712" class="g"/><use href="#R" x="725.8" class="k"/>
</g>
<g id="zp32-lizard" transform="translate(0,1086)">
<text class="sp" x="3" y="4.5">Lizard - Chr:GL343417.1</text>
<rect class="bar" x="434.5" y="-6.5" width="97.3" height="13"/>
<use href="#L" x="322.4" class="b"/><use href="#L" x="336" class="b"/><use href="#L" x="367" class="b"/><use href="#R" x="380.8" class="b"/><use href="#L" x="394.6" class="d"/><use href="#R" x="408.4" class="d"/><use href="#R" x="436" class="b"/><use href="#R" x="449.8" class="b"/><use href="#R" x="463.6" class="b"/><use href="#L" x="477.4" class="d"/><use href="#L" x="491.2" class="d"/><use href="#L" x="505" class="k"/><use href="#R" x="518.8" class="k"/><use href="#R" x="629.2" class="c"/><use href="#L" x="656.8" class="d"/><use href="#R" x="670.6" class="e"/><use href="#L" x="684.4" class="d"/><use href="#R" x="698.2" class="g"/><use href="#R" x="712" class="f"/><use href="#L" x="725.8" class="g"/>
<use href="#U" x="322.4" class="u"/><use href="#U" x="336" class="u"/><use href="#U" x="367" class="u"/><use href="#U" x="380.8" class="u"/><use href="#U" x="394.6" class="u"/><use href="#U" x="408.4" class="u"/><use href="#U" x="436" class="u"/><use href="#U" x="505" class="u"/><use href="#U" x="629.2" class="u"/><use href="#U" x="656.8" class="u"/><use href="#U" x="670.6" class="u"/><use href="#U" x="698.2" class="u"/><use href="#U" x="712" class="u"/><use href="#U" x="725.8" class="u"/>
</g>
<g id="zp32-gar" transform="translate(0,1103)">
<text class="sp" x="3" y="4.5">Spotted gar - Chr:LG20</text>
<rect class="bar" x="307.3" y="-6.5" width="28" height="13"/><rect class="bar" x="393.1" y="-6.5" width="42.1" height="13"/><rect class="bar" x="489.7" y="-6.5" width="55.9" height="13"/><rect class="bar" x="572.5" y="-6.5" width="28.3" height="13"/><rect class="bar" x="696.7" y="-6.5" width="42.1" height="13"/>
<use href="#R" x="308.8" class="e"/><use href="#L" x="322.4" class="e"/><use href="#R" x="336" class="b"/>
<use href="#R" x="367" class="b"/><use href="#L" x="380.8" class="c"/><use href="#R" x="394.6" class="d"/><use href="#L" x="408.4" class="e"/><use href="#R" x="422.2" class="d"/><use href="#L" x="436" class="c"/><use href="#L" x="449.8" class="c"/><use href="#R" x="463.6" class="c"/><use href="#R" x="477.4" class="b"/><use href="#L" x="491.2" class="d"/><use href="#L" x="505" class="k"/><use href="#L" x="518.8" class="k"/><use href="#R" x="532.6" class="f"/><use href="#R" x="546.4" class="c"/><use href="#R" x="560.2" class="b"/><use href="#L" x="574" class="b"/><use href="#R" x="587.8" class="b"/><use href="#L" x="601.6" class="c"/><use href="#R" x="615.4" class="c"/><use href="#L" x="629.2" class="c"/><use href="#R" x="643" class="c"/><use href="#L" x="656.8" class="d"/><use href="#R" x="670.6" class="d"/><use href="#L" x="684.4" class="f"/><use href="#L" x="698.2" class="g"/><use href="#L" x="712" class="g"/><use href="#R" x="725.8" class="k"/>
</g>
<g id="zp32-stickleback-iii" transform="translate(0,1120)">
<text class="sp" x="3" y="4.5">Stickleback - Chr:groupIII</text>
<rect class="bar" x="198.5" y="-6.5" width="28.2" height="13"/>
<use href="#L" x="200" class="k"/><use href="#L" x="213.6" class="g"/><use href="#R" x="227.2" class="e"/><use href="#L" x="240.8" class="f"/><use href="#L" x="463.6" class="c"/><use href="#U" x="463.6" class="u"/>
</g>
<g id="zp32-stickleback-vii" transform="translate(0,1137)">
<text class="sp" x="3" y="4.5">Stickleback - Chr:groupVII</text>
<rect class="bar" x="279.8" y="-6.5" width="28" height="13"/>
<use href="#R" x="240.8" class="f"/><use href="#R" x="268" class="b"/><use href="#L" x="281.6" class="d"/><use href="#R" x="295.2" class="d"/><use href="#L" x="308.8" class="b"/><use href="#R" x="463.6" class="b"/><use href="#U" x="463.6" class="u"/>
</g>
<g id="zp32-medaka" transform="translate(0,1153)">
<text class="sp" x="3" y="4.5">Medaka - Chr:17</text>
<use href="#R" x="200" class="g"/><use href="#L" x="213.6" class="g"/><use href="#L" x="227.2" class="g"/><use href="#L" x="240.8" class="f"/><use href="#R" x="463.6" class="b"/>
<use href="#U" x="200" class="u"/><use href="#U" x="213.6" class="u"/><use href="#U" x="227.2" class="u"/><use href="#U" x="240.8" class="u"/><use href="#U" x="463.6" class="u"/>
</g>
<g id="zp32-zebrafish" transform="translate(0,1170)">
<text class="sp" x="3" y="4.5">Zebrafish - Chr:2</text>
<use href="#R" x="200" class="g"/><use href="#L" x="213.6" class="g"/><use href="#L" x="227.2" class="g"/><use href="#L" x="240.8" class="f"/><use href="#R" x="463.6" class="b"/>
<use href="#U" x="200" class="u"/><use href="#U" x="213.6" class="u"/><use href="#U" x="227.2" class="u"/><use href="#U" x="240.8" class="u"/><use href="#U" x="463.6" class="u"/>
</g>
<line class="vb" x1="178" y1="1113" x2="178" y2="1144"/>

<!-- ZP3.3 -->
<g id="zp33-labels" class="gl">
<text transform="translate(254 1283) rotate(-45)">CTNND1</text><text transform="translate(323 1283) rotate(-45)">ENSACAG00000006811</text><text transform="translate(378 1283) rotate(-45)">DTX4</text><text transform="translate(448 1283) rotate(-45)">OSBP</text><text transform="translate(461 1283) rotate(-45)">PATL1</text><text transform="translate(474 1283) rotate(-45)">STX3</text><text transform="translate(489 1283) rotate(-45)">MRPL16</text><text transform="translate(517 1283) rotate(-45)">TCN1</text><text transform="translate(529 1283) rotate(-45)">ZP3.3</text><text transform="translate(557 1283) rotate(-45)">CDK2AP2</text><text transform="translate(572 1283) rotate(-45)">CABP2</text>
</g>
<g id="zp33-lizard" transform="translate(0,1293)">
<text class="sp" x="3" y="4.5">Lizard - Chr:1</text>
<rect x="228" y="-7" width="370" height="14" fill="none" stroke="#999" stroke-width="0.9"/>
<line x1="228" y1="7.5" x2="598" y2="7.5" stroke="#888" stroke-width="1.2"/>
<use href="#R" x="253.3" class="k"/><use href="#R" x="322.3" class="f"/><use href="#R" x="377.3" class="c"/><use href="#L" x="447.3" class="c"/><use href="#L" x="460.3" class="e"/><use href="#R" x="473.3" class="e"/><use href="#L" x="488.3" class="e"/><use href="#L" x="516.3" class="c"/><use href="#R" x="528.3" class="c"/><use href="#L" x="556.3" class="f"/><use href="#L" x="571.3" class="k"/>
</g>
<g id="zp33-turtle" transform="translate(0,1318)">
<text class="sp" x="3" y="4.5">Chinese turtle - Chr:JH204862.1</text>
<rect class="bar" x="458.8" y="-6.5" width="42.5" height="13"/><rect class="bar" x="514.8" y="-6.5" width="26.5" height="13"/>
<use href="#L" x="447.3" class="c"/><use href="#L" x="460.3" class="e"/><use href="#R" x="473.3" class="e"/><use href="#L" x="488.3" class="e"/><use href="#L" x="516.3" class="c"/><use href="#R" x="528.3" class="c"/>
<use href="#U" x="447.3" class="u"/><use href="#U" x="473.3" class="u"/><use href="#U" x="488.3" class="u"/><use href="#U" x="516.3" class="u"/><use href="#U" x="528.3" class="u"/>
</g>
<g id="zp33-tetraodon" transform="translate(0,1341)">
<text class="sp" x="3" y="4.5">Tetraodon - Chr:18</text>
<use href="#L" x="322.3" class="f"/><use href="#L" x="447.3" class="c"/><use href="#R" x="528.3" class="c"/>
</g>
<g id="zp33-zebrafish" transform="translate(0,1364)">
<text class="sp" x="3" y="4.5">Zebrafish - Chr:1</text>
<use href="#L" x="253.3" class="k"/><use href="#R" x="322.3" class="f"/><use href="#L" x="377.3" class="c"/><use href="#L" x="447.3" class="c"/><use href="#R" x="460.3" class="c"/><use href="#L" x="473.3" class="e"/><use href="#L" x="488.3" class="e"/><use href="#R" x="528.3" class="c"/><use href="#R" x="556.3" class="f"/><use href="#L" x="571.3" class="k"/>
<use href="#U" x="253.3" class="u"/><use href="#U" x="322.3" class="u"/><use href="#U" x="377.3" class="u"/><use href="#U" x="447.3" class="u"/><use href="#U" x="460.3" class="u"/><use href="#U" x="473.3" class="u"/><use href="#U" x="488.3" class="u"/><use href="#U" x="528.3" class="u"/><use href="#U" x="556.3" class="u"/><use href="#U" x="571.3" class="u"/>
</g>
</svg>
